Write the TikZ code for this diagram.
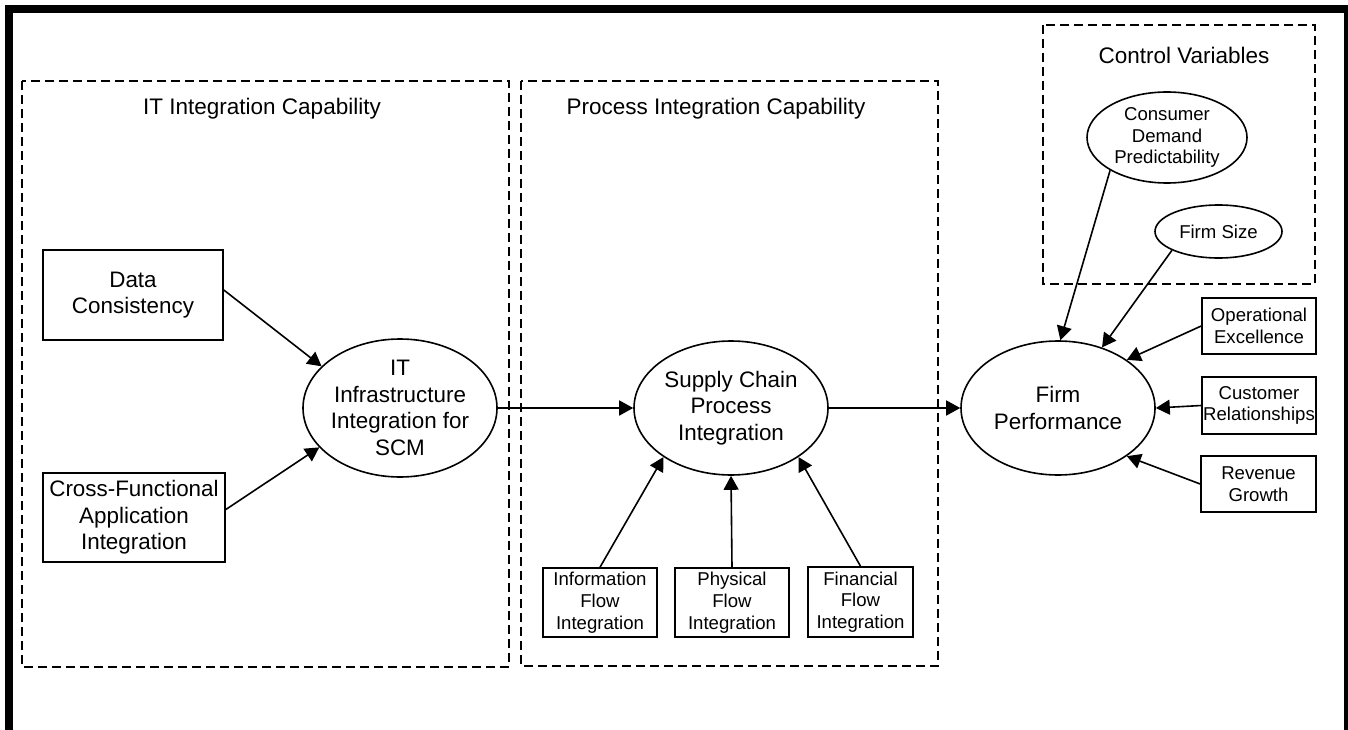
\documentclass[tikz,border=0pt]{standalone}
\usepackage{fontspec}
\setmainfont{Liberation Sans}
\usetikzlibrary{shapes.geometric,arrows.meta}
\begin{document}
\begin{tikzpicture}[x=1pt,y=-1pt,
  bigfont/.style={font=\fontsize{22.4}{26.7}\selectfont},
  smallfont/.style={font=\fontsize{18.6}{21.7}\selectfont},
  box/.style={draw,line width=1.6pt,align=center,inner sep=0pt},
  oval/.style={draw,ellipse,line width=1.6pt,align=center,inner sep=-6pt},
  group/.style={draw,line width=2pt,dash pattern=on 9pt off 5pt},
  title/.style={anchor=base,font=\fontsize{22.5}{27}\selectfont},
  arr/.style={line width=1.6pt,-{Triangle[length=14pt,width=15pt]}}]
\useasboundingbox (0,0) rectangle (1348,730);
% outer frame (open at the bottom)
\draw[line width=8pt] (9,740) -- (9,9.5) -- (1348,9.5) -- (1348,740);
% dashed groups
\draw[group] (22,81) rectangle (509,667);
\draw[group] (521,81) rectangle (938,666);
\draw[group] (1043,25) rectangle (1315,284);
\node[title] (ttl1) at (262,115) {IT Integration Capability};
\node[title] (ttl2) at (716,115) {Process Integration Capability};
\node[title] (ttl3) at (1184,64) {Control Variables};
% nodes
\node[box,bigfont,minimum width=180pt,minimum height=90pt] (dc) at (133,295) {Data\\Consistency};
\node[box,bigfont,minimum width=182pt,minimum height=89pt] (cf) at (134,517.5) {Cross-Functional\\Application\\Integration};
\node[oval,bigfont,minimum width=194pt,minimum height=138pt] (it) at (400,408) {IT\\Infrastructure\\Integration for\\SCM};
\node[oval,bigfont,minimum width=194pt,minimum height=134pt] (sc) at (731,408) {Supply Chain\\Process\\Integration};
\node[oval,bigfont,minimum width=194pt,minimum height=134pt] (fp) at (1058,408) {Firm\\Performance};
\node[box,smallfont,minimum width=114pt,minimum height=69pt] (ifi) at (600,602.5) {Information\\Flow\\Integration};
\node[box,smallfont,minimum width=114pt,minimum height=69pt] (pfi) at (732,602.5) {Physical\\Flow\\Integration};
\node[box,smallfont,minimum width=105pt,minimum height=70pt] (ffi) at (860.5,602) {Financial\\Flow\\Integration};
\node[oval,smallfont,minimum width=160pt,minimum height=91pt] (cd) at (1167,137.5) {Consumer\\Demand\\Predictability};
\node[oval,smallfont,minimum width=127pt,minimum height=53pt] (fs) at (1218.5,231.5) {Firm Size};
\node[box,smallfont,minimum width=114pt,minimum height=56pt] (oe) at (1259,326) {Operational\\Excellence};
\node[box,smallfont,minimum width=114pt,minimum height=57pt] (cr) at (1259,405.5) {Customer\\Relationships};
\node[box,smallfont,minimum width=115pt,minimum height=56pt] (rg) at (1258.5,484) {Revenue\\Growth};
% connectors
\draw[arr] ([yshift=5pt]dc.east) -- (it.152);
\draw[arr] ([yshift=8pt]cf.east) -- (it.206);
\draw[arr] (it.east) -- (sc.west);
\draw[arr] (sc.east) -- (fp.west);
\draw[arr] (ifi.north) -- (sc.216);
\draw[arr] (pfi.north) -- (sc.south);
\draw[arr] (ffi.north) -- (sc.324);
\draw[arr] (cd.210) -- (fp.88);
\draw[arr] (fs.202) -- (fp.54);
\draw[arr] (oe.west) -- (fp.35);
\draw[arr] (cr.west) -- (fp.east);
\draw[arr] (rg.west) -- (fp.-35);
\end{tikzpicture}
\end{document}
